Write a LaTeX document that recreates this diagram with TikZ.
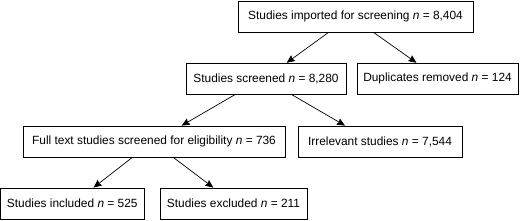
\documentclass[tikz,border=0pt]{standalone}
\usepackage{fontspec}
\setmainfont{Liberation Sans}
\usetikzlibrary{arrows.meta}
\begin{document}
\begin{tikzpicture}[x = 1pt, y = 1pt, font = \fontsize{11.9}{14}\selectfont,
	box/.style = {draw, line width = 0.8pt, minimum height = 31pt, inner sep = 0pt},
	flow/.style = {-{Stealth[length = 8pt, width = 7pt, inset = 1pt]}, line width = 0.7pt}]
	\useasboundingbox (0,0) rectangle (520,220);
	\node [box, minimum width = 235] (imported) at (355.5,203.5) {Studies imported for screening \textit{n} = 8,404};
	\node [box, minimum width = 160] (screened) at (266,141.3) {Studies screened \textit{n} = 8,280};
	\node [box, minimum width = 161] (duplicates) at (437.5,141.3) {Duplicates removed \textit{n} = 124};
	\node [box, minimum width = 262] (fulltext) at (154,78.5) {Full text studies screened for eligibility \textit{n} = 736};
	\node [box, minimum width = 164] (irrelevant) at (380,78.5) {Irrelevant studies \textit{n} = 7,544};
	\node [box, minimum width = 143.5] (included) at (72.25,16.5) {Studies included \textit{n} = 525};
	\node [box, minimum width = 147] (excluded) at (233.5,16.5) {Studies excluded \textit{n} = 211};
	\draw [flow] ([xshift = -27pt]imported.south) -- ([xshift = 20.7pt]screened.north);
	\draw [flow] ([xshift = 18pt]imported.south) -- ([xshift = -21pt]duplicates.north);
	\draw [flow] ([xshift = -31pt]screened.south) -- ([xshift = 27.7pt]fulltext.north);
	\draw [flow] ([xshift = 25.7pt]screened.south) -- ([xshift = -35pt]irrelevant.north);
	\draw [flow] ([xshift = -21.7pt]fulltext.south) -- ([xshift = 21.3pt]included.north);
	\draw [flow] ([xshift = 19.3pt]fulltext.south) -- ([xshift = -20.2pt]excluded.north);
\end{tikzpicture}
\end{document}
